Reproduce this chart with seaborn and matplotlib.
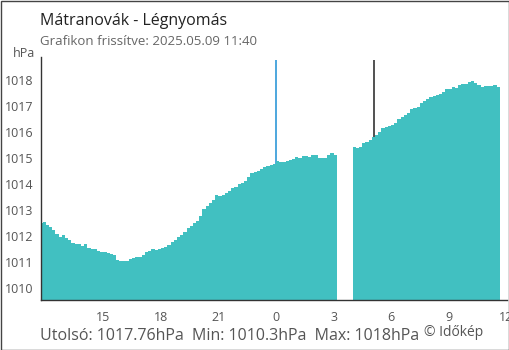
import numpy as np
import pandas as pd
import matplotlib
matplotlib.use("Agg")
import matplotlib.pyplot as plt
import seaborn as sns

# ---- data (10-minute pressure readings, hPa) ----
start_hour = -12.25          # hours relative to midnight (11:45 previous day)
step_hours = 1 / 6
pressure_part1 = [
    1012.5, 1012.54, 1012.43, 1012.35, 1012.24, 1012.1, 1011.98, 1012.05, 1011.92, 1011.86,
    1011.75, 1011.69, 1011.7, 1011.63, 1011.7, 1011.56, 1011.51, 1011.51, 1011.45, 1011.41,
    1011.41, 1011.35, 1011.31, 1011.28, 1011.09, 1011.06, 1011.05, 1011.06, 1011.13, 1011.17,
    1011.2, 1011.22, 1011.28, 1011.38, 1011.45, 1011.5, 1011.48, 1011.5, 1011.55, 1011.58,
    1011.67, 1011.77, 1011.86, 1011.96, 1012.05, 1012.18, 1012.31, 1012.41, 1012.5, 1012.6,
    1012.8, 1013.05,
    1013.18, 1013.27, 1013.4, 1013.59, 1013.55, 1013.59, 1013.65, 1013.75, 1013.85, 1013.88,
    1014.0, 1014.06, 1014.14, 1014.29, 1014.42, 1014.48, 1014.51, 1014.58, 1014.68, 1014.7,
    1014.74, 1014.78,
    1014.91, 1014.86, 1014.85, 1014.91, 1014.93, 1014.97, 1015.06, 1015.03, 1015.09, 1015.09,
    1015.06, 1015.13, 1015.13, 1015.0, 1015.03, 1015.03, 1015.13, 1015.19, 1015.13,
]
gap_slots = 5
pressure_part2 = [
    1015.42, 1015.38, 1015.42, 1015.58, 1015.63, 1015.7, 1015.83, 1015.9, 1016.02, 1016.15,
    1016.19, 1016.24, 1016.28, 1016.37, 1016.5, 1016.6, 1016.67, 1016.75, 1016.88, 1016.92,
    1016.96, 1017.12, 1017.22, 1017.27, 1017.37, 1017.4, 1017.43, 1017.47, 1017.56, 1017.65,
    1017.68, 1017.75, 1017.72, 1017.82, 1017.85, 1017.88, 1017.92, 1017.98, 1017.9, 1017.82,
    1017.75, 1017.78, 1017.78, 1017.78, 1017.82, 1017.76,
]
tick_hours = [-12.27, -9, -6, -3, 0, 3, 6, 9, 12]
tick_labels = ["", "15", "18", "21", "0", "3", "6", "9", "12"]
ytick_values = [1010, 1011, 1012, 1013, 1014, 1015, 1016, 1017, 1018]
midnight_hour = 0.0
sunrise_hour = 5.13

title = "Mátranovák - Légnyomás"
subtitle = "Grafikon frissítve: 2025.05.09 11:40"
stats = "Utolsó: 1017.76hPa  Min: 1010.3hPa  Max: 1018hPa"
credit = "© Időkép"

# ---- build table ----
idx1 = np.arange(len(pressure_part1))
idx2 = np.arange(len(pressure_part2)) + len(pressure_part1) + gap_slots
hours = np.concatenate([start_hour + idx1 * step_hours, start_hour + idx2 * step_hours])
df = pd.DataFrame({"hour": np.round(hours, 4),
                   "pressure": pressure_part1 + pressure_part2})

sns.set_style("white")
plt.rcParams["font.family"] = ["Open Sans", "DejaVu Sans"]

W, H = 510, 350
fig = plt.figure(figsize=(W / 100, H / 100), dpi=100)
ax = fig.add_axes([40.7 / W, 50 / H, (506.7 - 40.7) / W, (300 - 57) / H])

ymin, ymax = 1009.55, 1018.9
bar_color = "#41c0c1"

ax.vlines(midnight_hour, ymin, 1018.78, color="#2f98d8", lw=1.2, zorder=0)
ax.vlines(sunrise_hour, ymin, 1018.78, color="#333333", lw=1.2, zorder=0)

sns.barplot(data=df, x="hour", y="pressure", native_scale=True, width=1.0,
            color=bar_color, errorbar=None, linewidth=0, edgecolor="none",
            saturation=1, ax=ax, zorder=2)

ax.set_xlim(-12.27, 12.03)
ax.set_ylim(ymin, ymax)
ax.set_xlabel("")
ax.set_ylabel("")

ax.set_xticks(tick_hours)
ax.set_xticklabels(tick_labels)
ax.set_yticks(ytick_values)
ax.set_yticklabels([str(v) for v in ytick_values])

for s in ["top", "right"]:
    ax.spines[s].set_visible(False)
for s in ["left", "bottom"]:
    ax.spines[s].set_color("#333333")
    ax.spines[s].set_linewidth(1.0)

ax.tick_params(axis="y", direction="inout", length=8, width=1.0, color="#333333",
               labelsize=9, labelcolor="#555555", pad=1)
ax.tick_params(axis="x", direction="out", length=5, width=1.0, color="#333333",
               labelsize=9, labelcolor="#555555", pad=3)
for t, lab in zip(ax.xaxis.get_major_ticks(), tick_labels):
    if lab == "0":
        t.tick1line.set_color("#2f98d8")

fig.text(40 / W, 1 - 25 / H, title, fontsize=11.5, color="#222222", ha="left", va="baseline")
fig.text(40 / W, 1 - 45 / H, subtitle, fontsize=9.5, color="#666666", ha="left", va="baseline")
fig.text(35 / W, 1 - 57 / H, "hPa", fontsize=9, color="#555555", ha="right", va="baseline")
fig.text(40 / W, 1 - 340 / H, stats, fontsize=11.5, color="#555555", ha="left", va="baseline")
fig.text(424 / W, 1 - 336 / H, credit, fontsize=10, color="#555555", ha="left", va="baseline")

border = plt.Rectangle((0.5 / W, 0.5 / H), 1 - 1.5 / W, 1 - 1.5 / H, transform=fig.transFigure,
                       fill=False, edgecolor="#444444", lw=1.0)
fig.patches.append(border)

fig.savefig("out.png", dpi=100)
